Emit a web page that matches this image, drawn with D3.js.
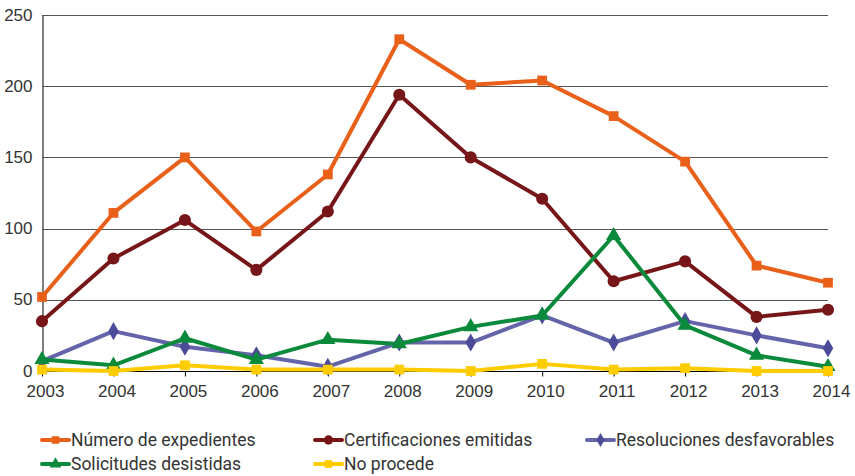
<!DOCTYPE html>
<html>
<head>
<meta charset="utf-8">
<script src="https://cdn.jsdelivr.net/npm/d3@7"></script>
<style>
  body { margin: 0; background: #fff; }
  svg { display: block; font-family: Roboto, sans-serif; }
</style>
</head>
<body>
<div id="chart"></div>
<script>
var width = 855, height = 476;

var years = [2003, 2004, 2005, 2006, 2007, 2008, 2009, 2010, 2011, 2012, 2013, 2014];
var yTicks = [0, 50, 100, 150, 200, 250];

var expedientes = [52, 111, 150, 98, 138, 233, 201, 204, 179, 147, 74, 62];
var certificaciones = [35, 79, 106, 71, 112, 194, 150, 121, 63, 77, 38, 43];
var desfavorables = [7, 28, 17, 11, 3, 20, 20, 39, 20, 35, 25, 16];
var desistidas = [8, 4, 23, 8, 22, 19, 31, 39, 95, 32, 11, 3];
var noProcede = [1, 0, 4, 1, 1, 1, 0, 5, 1, 2, 0, 0];

var series = [
  {name: "Número de expedientes", values: expedientes, line: "#e8601a", mark: "#e8601a", shape: "square"},
  {name: "Certificaciones emitidas", values: certificaciones, line: "#761618", mark: "#761618", shape: "circle"},
  {name: "Resoluciones desfavorables", values: desfavorables, line: "#6464aa", mark: "#4b4b99", shape: "diamond"},
  {name: "Solicitudes desistidas", values: desistidas, line: "#0a8a3a", mark: "#0a8a3a", shape: "triangle"},
  {name: "No procede", values: noProcede, line: "#ffcc00", mark: "#ffcc00", shape: "square"}
];

var margin = {left: 42, right: 27, top: 15, bottom: 105};

var x = d3.scalePoint()
  .domain(years)
  .range([margin.left, width - margin.right]);

var y = d3.scaleLinear()
  .domain([0, 250])
  .range([height - margin.bottom, margin.top]);

var svg = d3.select("#chart")
  .append("svg")
  .attr("width", width)
  .attr("height", height);

// gridlines
svg.append("g")
  .selectAll("line")
  .data(yTicks)
  .enter()
  .append("line")
  .attr("x1", margin.left)
  .attr("x2", width - margin.right)
  .attr("y1", function(d) { return Math.round(y(d)) + 0.5; })
  .attr("y2", function(d) { return Math.round(y(d)) + 0.5; })
  .style("stroke", function(d) { return d == 0 ? "#000" : "#555"; })
  .style("stroke-width", 1);

// y axis
var yAxis = svg.append("g")
  .attr("transform", "translate(" + (margin.left + 0.5) + ",0)")
  .call(d3.axisLeft(y).tickValues(yTicks).tickSize(0).tickPadding(10));
yAxis.select(".domain").style("stroke", "#555").style("stroke-width", 1.5);
yAxis.selectAll("text").style("font-size", "17px").style("fill", "#333").attr("dy", "0.3em");

// x axis
var xAxis = svg.append("g")
  .attr("transform", "translate(0," + (Math.round(y(0)) + 0.5) + ")")
  .call(d3.axisBottom(x).tickSize(5).tickPadding(8));
xAxis.select(".domain").remove();
xAxis.selectAll("line").style("stroke", "#000");
xAxis.selectAll("text").style("font-size", "17px").style("fill", "#333").attr("dx", 3);

var line = d3.line()
  .x(function(d, i) { return x(years[i]); })
  .y(function(d) { return y(d); });

function symbolFor(shape, size) {
  var t = {square: d3.symbolSquare, circle: d3.symbolCircle, diamond: d3.symbolDiamond, triangle: d3.symbolTriangle}[shape];
  return d3.symbol().type(t).size(size)();
}
var sizes = {square: 95, circle: 115, diamond: 95, triangle: 100};

series.forEach(function(s) {
  var g = svg.append("g");
  g.append("path")
    .datum(s.values)
    .attr("d", line)
    .style("fill", "none")
    .style("stroke", s.line)
    .style("stroke-width", 4)
    .style("stroke-linejoin", "round");
  g.selectAll("path.mark")
    .data(s.values)
    .enter()
    .append("path")
    .attr("class", "mark")
    .attr("transform", function(d, i) { return "translate(" + x(years[i]) + "," + y(d) + ")"; })
    .attr("d", symbolFor(s.shape, sizes[s.shape]))
    .style("fill", s.mark);
});

// legend
var legendPos = [[42, 440], [315, 440], [587, 440], [42, 464], [315, 464]];
var legend = svg.append("g");
series.forEach(function(s, i) {
  var p = legendPos[i];
  var lg = legend.append("g").attr("transform", "translate(" + p[0] + "," + p[1] + ")");
  lg.append("line")
    .attr("x1", 0).attr("x2", 27)
    .style("stroke", s.line)
    .style("stroke-width", 4)
    .style("stroke-linecap", "round");
  lg.append("path")
    .attr("transform", "translate(13.5,0)")
    .attr("d", symbolFor(s.shape, sizes[s.shape] * 0.6))
    .style("fill", s.mark);
  lg.append("text")
    .attr("x", 29)
    .attr("dy", "0.35em")
    .style("font-size", "17.5px")
    .style("fill", "#333")
    .text(s.name);
});
</script>
</body>
</html>
